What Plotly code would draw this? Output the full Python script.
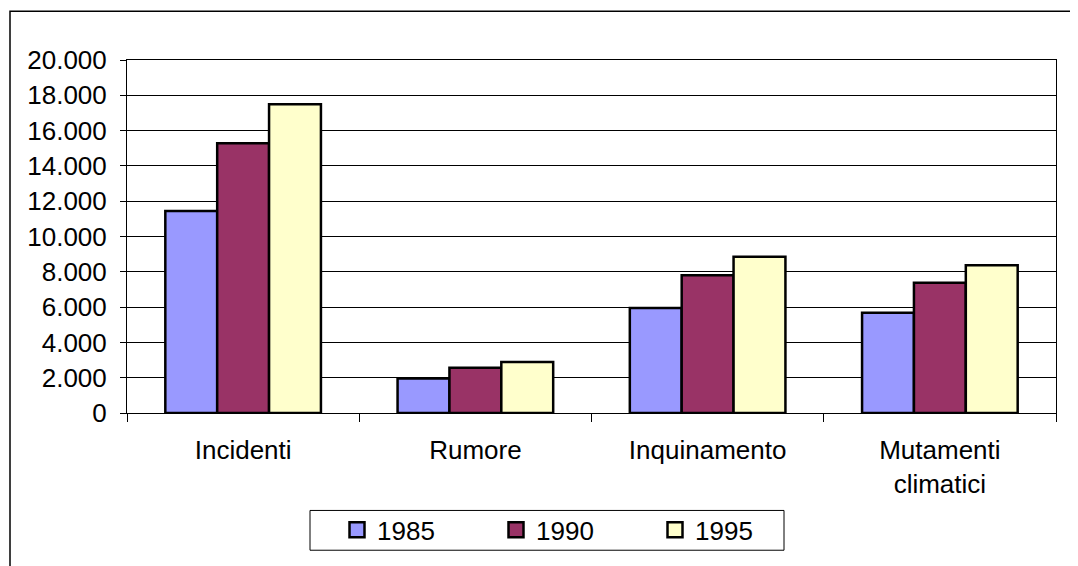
import plotly.graph_objs as go

categorie = ["Incidenti", "Rumore", "Inquinamento", "Mutamenti<br>climatici"]
anni = ["1985", "1990", "1995"]
v1985 = [11450, 1950, 5950, 5680]
v1990 = [15280, 2570, 7810, 7380]
v1995 = [17490, 2890, 8850, 8370]
colori = ["#9999FF", "#993366", "#FFFFCC"]

# la pagina ha un margine di 8px, quindi tutto è spostato di 8px
W, H = 1070, 558
L, R, T, B = 119, 22, 52, 151
pw, ph = W - L - R, H - T - B
base = H - B  # fondo dell'area del grafico, in pixel

fig = go.Figure()
for anno, valori, col in zip(anni, [v1985, v1990, v1995], colori):
    fig.add_trace(go.Bar(x=categorie, y=valori, name=anno, showlegend=False,
                         marker=dict(color=col, line=dict(color="black", width=2.5))))
    # voce di legenda con quadrato più grande
    fig.add_trace(go.Scatter(x=[None], y=[None], name=anno, mode="markers",
                             marker=dict(symbol="square", size=15, color=col,
                                         line=dict(color="black", width=2.5))))

# cornice esterna del grafico
fig.add_shape(type="rect", xref="paper", yref="paper",
              x0=(2 - L) / pw, x1=(W + 20 - L) / pw,
              y0=-1, y1=(base - 3) / ph,
              line=dict(color="black", width=1.5), fillcolor="rgba(0,0,0,0)")
# riquadro della legenda
fig.add_shape(type="rect", xref="paper", yref="paper",
              x0=(302 - L) / pw, x1=(776 - L) / pw,
              y0=(base - 545) / ph, y1=(base - 505) / ph,
              line=dict(color="black", width=1), fillcolor="white", layer="below")

fig.update_layout(
    width=W, height=H,
    margin=dict(l=L, r=R, t=T, b=B),
    barmode="group", bargap=0.33, bargroupgap=0,
    separators=",.",
    plot_bgcolor="rgba(0,0,0,0)", paper_bgcolor="white",
    font=dict(family="Liberation Sans, Arial", size=26, color="black"),
    showlegend=True,
    legend=dict(orientation="h", x=(329 - L) / pw, y=(base - 501) / ph,
                xanchor="left", yanchor="top",
                bgcolor="rgba(0,0,0,0)", borderwidth=0,
                entrywidth=114, entrywidthmode="pixels",
                font=dict(size=26), itemsizing="trace"),
)
fig.update_yaxes(range=[0, 20000], dtick=2000, tickformat=",d",
                 showgrid=True, gridcolor="black", gridwidth=1,
                 showline=True, linecolor="black", linewidth=1, mirror=True,
                 ticks="outside", ticklen=6, tickcolor="black",
                 ticklabelstandoff=8, zeroline=False, automargin=False)
fig.update_xaxes(type="category", tickson="boundaries",
                 showline=True, linecolor="black", linewidth=1, mirror=True,
                 ticks="outside", ticklen=8, tickcolor="black",
                 ticklabelstandoff=14, automargin=False)

fig.write_html("out.html")
